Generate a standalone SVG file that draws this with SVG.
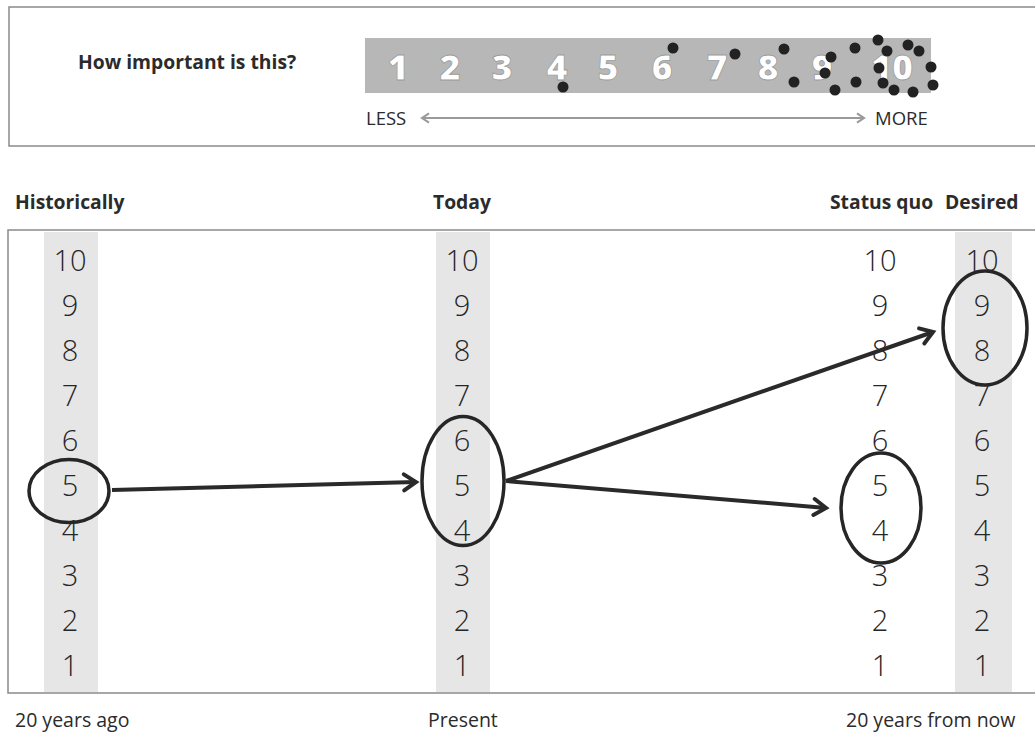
<svg xmlns="http://www.w3.org/2000/svg" width="1035" height="732" viewBox="0 0 1035 732">
<style>
text{font-family:"Open Sans","Noto Sans","DejaVu Sans",sans-serif;fill:#2b2b2b}
.b{font-weight:700;font-size:19.3px}
.r{font-size:19.5px}
.s{font-size:18.5px}
.n{font-weight:300;font-size:29px;text-anchor:middle;fill:#262626}
.bn{font-weight:800;font-size:36px;text-anchor:middle;fill:#fff;stroke:#9a9a9a;stroke-width:0.8}
.box{fill:none;stroke:#8a8a8a;stroke-width:1.5}
.col{fill:#e6e6e6}
.dot{fill:#222}
.ell{fill:none;stroke:#262626;stroke-width:3.5}
.con{stroke:#2a2a2a;stroke-width:4;fill:none;marker-end:url(#ah)}
</style>
<defs>
<marker id="ah" markerUnits="userSpaceOnUse" markerWidth="24" markerHeight="24" refX="0" refY="0" viewBox="-16 -12 20 24" orient="auto">
<path d="M-12,-8 L0,0 L-12,8" fill="none" stroke="#2a2a2a" stroke-width="4" stroke-linecap="round" stroke-linejoin="miter"/>
</marker>
<marker id="gh" markerUnits="userSpaceOnUse" markerWidth="14" markerHeight="14" refX="0" refY="0" viewBox="-8 -6 10 12" orient="auto-start-reverse">
<path d="M-6,-4 L0,0 L-6,4" fill="none" stroke="#9a9a9a" stroke-width="1.8"/>
</marker>
</defs>
<rect width="1035" height="732" fill="#fff"/>

<g id="scale-panel">
<path class="box" d="M1035,7 H9 V146 H1035"/>
<text class="b" x="78" y="69">How important is this?</text>
<rect x="365" y="38" width="566" height="55" fill="#b7b7b7"/>
<text class="bn" x="398" y="80">1</text>
<text class="bn" x="450" y="80">2</text>
<text class="bn" x="502" y="80">3</text>
<text class="bn" x="557" y="80">4</text>
<text class="bn" x="608" y="80">5</text>
<text class="bn" x="662" y="80">6</text>
<text class="bn" x="717" y="80">7</text>
<text class="bn" x="768" y="80">8</text>
<text class="bn" x="822" y="80">9</text>
<text class="bn" x="892" y="80">10</text>
<g id="votes">
<circle class="dot" cx="563" cy="87" r="5.5"/>
<circle class="dot" cx="673" cy="48" r="5.5"/>
<circle class="dot" cx="735" cy="54" r="5.5"/>
<circle class="dot" cx="784" cy="49" r="5.5"/>
<circle class="dot" cx="794" cy="82" r="5.5"/>
<circle class="dot" cx="831" cy="57" r="5.5"/>
<circle class="dot" cx="825" cy="73" r="5.5"/>
<circle class="dot" cx="835" cy="90" r="5.5"/>
<circle class="dot" cx="855" cy="48" r="5.5"/>
<circle class="dot" cx="856" cy="82" r="5.5"/>
<circle class="dot" cx="878" cy="40" r="5.5"/>
<circle class="dot" cx="887" cy="51" r="5.5"/>
<circle class="dot" cx="879" cy="68" r="5.5"/>
<circle class="dot" cx="883" cy="83" r="5.5"/>
<circle class="dot" cx="894" cy="90" r="5.5"/>
<circle class="dot" cx="908" cy="45" r="5.5"/>
<circle class="dot" cx="919" cy="51" r="5.5"/>
<circle class="dot" cx="913" cy="92" r="5.5"/>
<circle class="dot" cx="931" cy="67" r="5.5"/>
<circle class="dot" cx="933" cy="85" r="5.5"/>
</g>
<text class="s" x="366" y="125">LESS</text>
<line x1="422" y1="118" x2="864" y2="118" stroke="#9a9a9a" stroke-width="1.8" marker-start="url(#gh)" marker-end="url(#gh)"/>
<text class="s" x="875" y="125">MORE</text>
</g>

<g id="headers">
<text class="b" x="15" y="209">Historically</text>
<text class="b" x="433" y="209">Today</text>
<text class="b" x="830" y="209">Status quo</text>
<text class="b" x="945" y="209">Desired</text>
</g>

<path class="box" d="M1035,230 H8 V693 H1035"/>

<g id="historically">
<rect class="col" x="44" y="232" width="54" height="460"/>
<text class="n" x="70" y="270.5">10</text>
<text class="n" x="70" y="315.5">9</text>
<text class="n" x="70" y="360.5">8</text>
<text class="n" x="70" y="405.5">7</text>
<text class="n" x="70" y="450.5">6</text>
<text class="n" x="70" y="495.5">5</text>
<text class="n" x="70" y="540.5">4</text>
<text class="n" x="70" y="585.5">3</text>
<text class="n" x="70" y="630.5">2</text>
<text class="n" x="70" y="675.5">1</text>
<ellipse class="ell" cx="69" cy="491" rx="40" ry="31.5"/>
</g>

<g id="today">
<rect class="col" x="436" y="232" width="54" height="460"/>
<text class="n" x="462" y="270.5">10</text>
<text class="n" x="462" y="315.5">9</text>
<text class="n" x="462" y="360.5">8</text>
<text class="n" x="462" y="405.5">7</text>
<text class="n" x="462" y="450.5">6</text>
<text class="n" x="462" y="495.5">5</text>
<text class="n" x="462" y="540.5">4</text>
<text class="n" x="462" y="585.5">3</text>
<text class="n" x="462" y="630.5">2</text>
<text class="n" x="462" y="675.5">1</text>
<ellipse class="ell" cx="463" cy="481" rx="41" ry="64.5"/>
</g>

<g id="status-quo">
<text class="n" x="880" y="270.5">10</text>
<text class="n" x="880" y="315.5">9</text>
<text class="n" x="880" y="360.5">8</text>
<text class="n" x="880" y="405.5">7</text>
<text class="n" x="880" y="450.5">6</text>
<text class="n" x="880" y="495.5">5</text>
<text class="n" x="880" y="540.5">4</text>
<text class="n" x="880" y="585.5">3</text>
<text class="n" x="880" y="630.5">2</text>
<text class="n" x="880" y="675.5">1</text>
<ellipse class="ell" cx="881" cy="508" rx="40" ry="55"/>
</g>

<g id="desired">
<rect class="col" x="955" y="232" width="57" height="460"/>
<text class="n" x="982" y="270.5">10</text>
<text class="n" x="982" y="315.5">9</text>
<text class="n" x="982" y="360.5">8</text>
<text class="n" x="982" y="405.5">7</text>
<text class="n" x="982" y="450.5">6</text>
<text class="n" x="982" y="495.5">5</text>
<text class="n" x="982" y="540.5">4</text>
<text class="n" x="982" y="585.5">3</text>
<text class="n" x="982" y="630.5">2</text>
<text class="n" x="982" y="675.5">1</text>
<ellipse class="ell" cx="985" cy="328" rx="42" ry="57"/>
</g>

<g id="connectors">
<line class="con" x1="112" y1="490" x2="416" y2="482"/>
<line class="con" x1="506" y1="481" x2="933" y2="332"/>
<line class="con" x1="506" y1="481" x2="826" y2="508"/>
</g>

<g id="footers">
<text class="r" x="15" y="727">20 years ago</text>
<text class="r" x="428" y="727">Present</text>
<text class="r" x="846" y="727">20 years from now</text>
</g>
</svg>
